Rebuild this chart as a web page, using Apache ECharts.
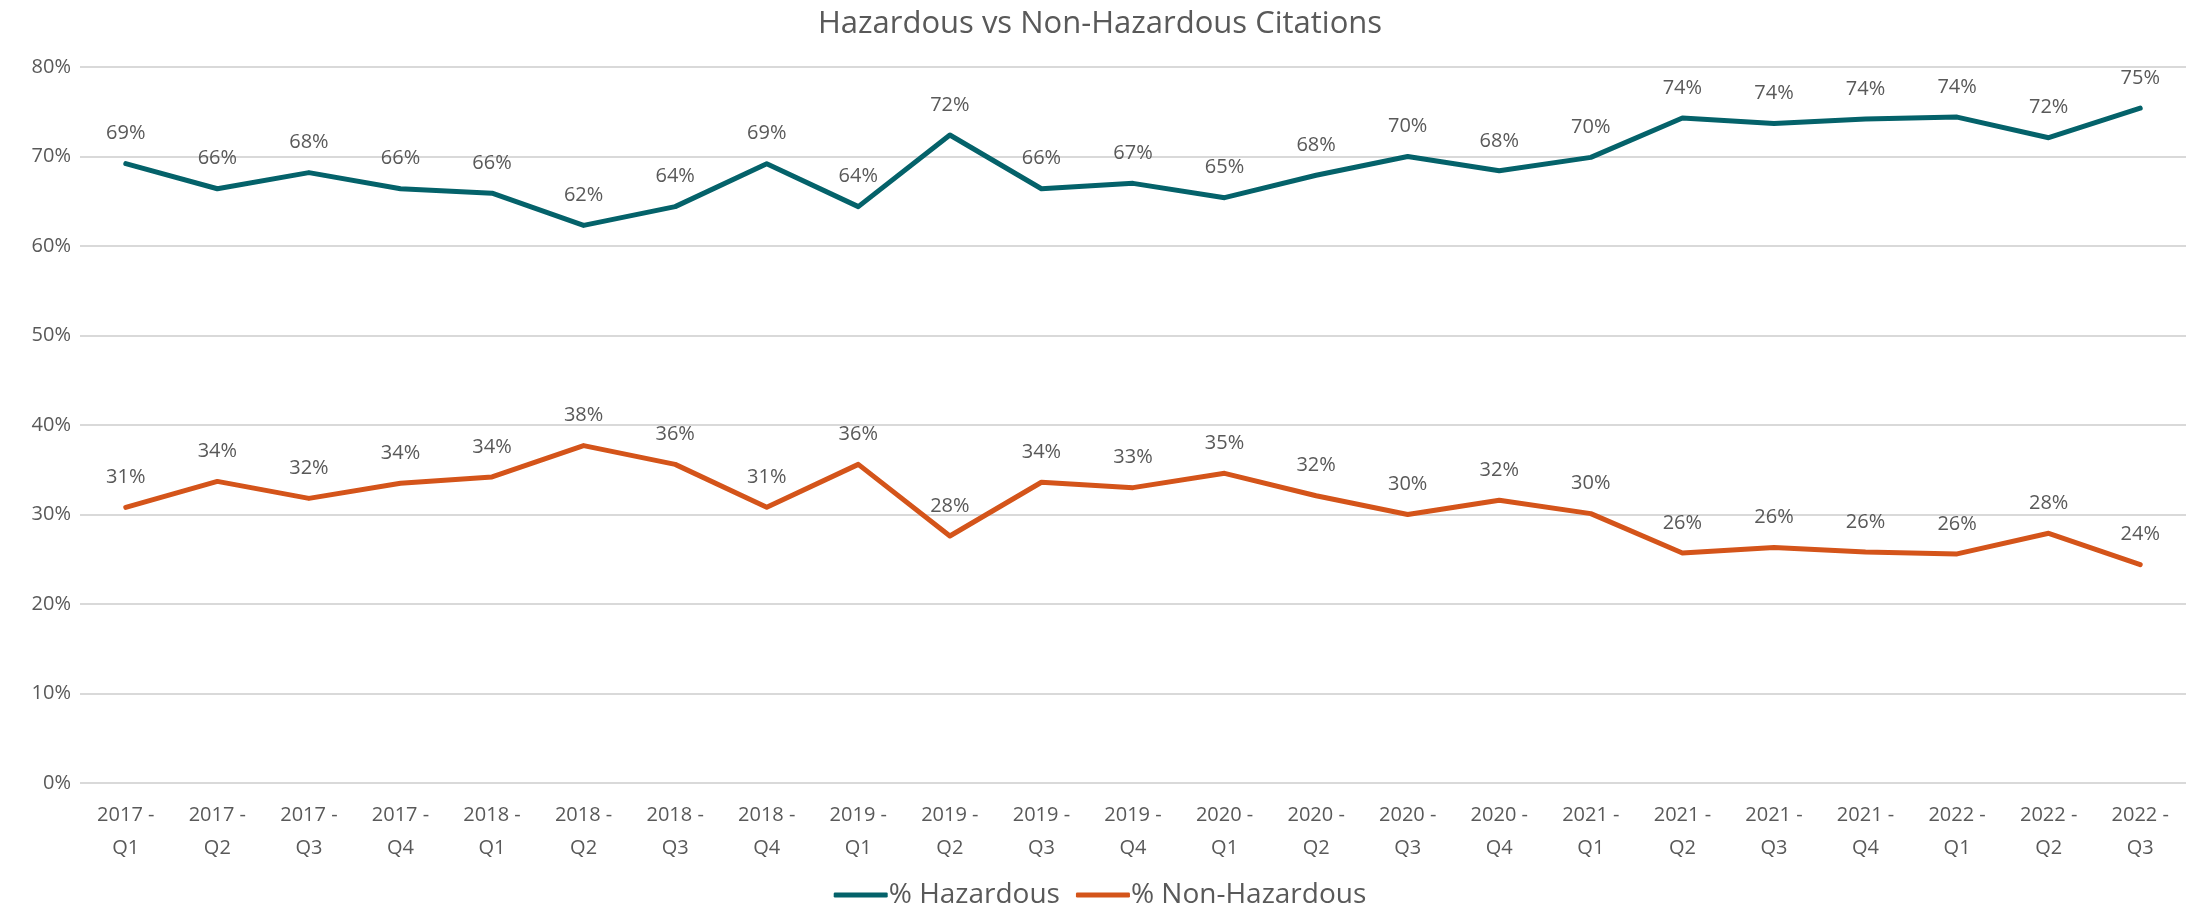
<!DOCTYPE html>
<html>
<head>
<meta charset="utf-8">
<script src="https://cdn.jsdelivr.net/npm/echarts@6/dist/echarts.min.js"></script>
<style>
	html, body { margin: 0; padding: 0; background: #fff; }
	#chart { width: 2200px; height: 914px; }
</style>
</head>
<body>
<div id="chart"></div>
<script>
// categories (quarters)
var quarters = ["2017 -\nQ1", "2017 -\nQ2", "2017 -\nQ3", "2017 -\nQ4",
	"2018 -\nQ1", "2018 -\nQ2", "2018 -\nQ3", "2018 -\nQ4",
	"2019 -\nQ1", "2019 -\nQ2", "2019 -\nQ3", "2019 -\nQ4",
	"2020 -\nQ1", "2020 -\nQ2", "2020 -\nQ3", "2020 -\nQ4",
	"2021 -\nQ1", "2021 -\nQ2", "2021 -\nQ3", "2021 -\nQ4",
	"2022 -\nQ1", "2022 -\nQ2", "2022 -\nQ3"];

// % Hazardous
var hazardous = [69.2, 66.4, 68.2, 66.4, 65.9, 62.3, 64.4, 69.2, 64.4, 72.4, 66.4, 67.0,
	65.4, 67.9, 70.0, 68.4, 69.9, 74.3, 73.7, 74.2, 74.4, 72.1, 75.4];

// % Non-Hazardous
var nonHazardous = [30.8, 33.7, 31.8, 33.5, 34.2, 37.7, 35.6, 30.8, 35.6, 27.6, 33.6, 33.0,
	34.6, 32.1, 30.0, 31.6, 30.1, 25.7, 26.3, 25.8, 25.6, 27.9, 24.4];

var fontFamily = "'Open Sans', sans-serif";
var textColor = "#595959";

var myChart = echarts.init(document.getElementById("chart"), null, { renderer: "canvas" });

var labelOpt = {
	show: true,
	position: "top",
	distance: 20,
	color: textColor,
	fontFamily: fontFamily,
	fontSize: 20,
	formatter: function(p) {
		return Math.round(p.value) + "%";
	}
};

var option = {
	backgroundColor: "#fff",
	title: {
		text: "Hazardous vs Non-Hazardous Citations",
		left: "center",
		top: 4,
		textStyle: {
			color: textColor,
			fontFamily: fontFamily,
			fontSize: 31,
			fontWeight: "normal"
		}
	},
	legend: {
		bottom: 0,
		left: "center",
		itemWidth: 54,
		itemHeight: 5,
		itemGap: 16,
		icon: "roundRect",
		textStyle: {
			color: textColor,
			fontFamily: fontFamily,
			fontSize: 28,
			padding: [0, 0, 0, -4]
		},
		data: ["% Hazardous", "% Non-Hazardous"]
	},
	grid: {
		left: 80,
		right: 14,
		top: 67,
		bottom: 131
	},
	xAxis: {
		type: "category",
		boundaryGap: true,
		data: quarters,
		axisLine: { show: false },
		axisTick: { show: false },
		axisLabel: {
			color: textColor,
			fontFamily: fontFamily,
			fontSize: 20,
			lineHeight: 33,
			margin: 16,
			interval: 0
		}
	},
	yAxis: {
		type: "value",
		min: 0,
		max: 80,
		interval: 10,
		axisLabel: {
			color: textColor,
			fontFamily: fontFamily,
			fontSize: 20,
			margin: 9,
			formatter: "{value}%"
		},
		splitLine: { lineStyle: { color: "#d9d9d9", width: 2 } }
	},
	series: [{
			name: "% Hazardous",
			type: "line",
			data: hazardous,
			symbol: "circle",
			symbolSize: 0,
			lineStyle: { width: 5, color: "#04626A", cap: "round", join: "round" },
			itemStyle: { color: "#04626A" },
			label: labelOpt
		},
		{
			name: "% Non-Hazardous",
			type: "line",
			data: nonHazardous,
			symbol: "circle",
			symbolSize: 0,
			lineStyle: { width: 5, color: "#D4541A", cap: "round", join: "round" },
			itemStyle: { color: "#D4541A" },
			label: labelOpt
		}
	],
	animation: false
};

myChart.setOption(option, true);
</script>
</body>
</html>
